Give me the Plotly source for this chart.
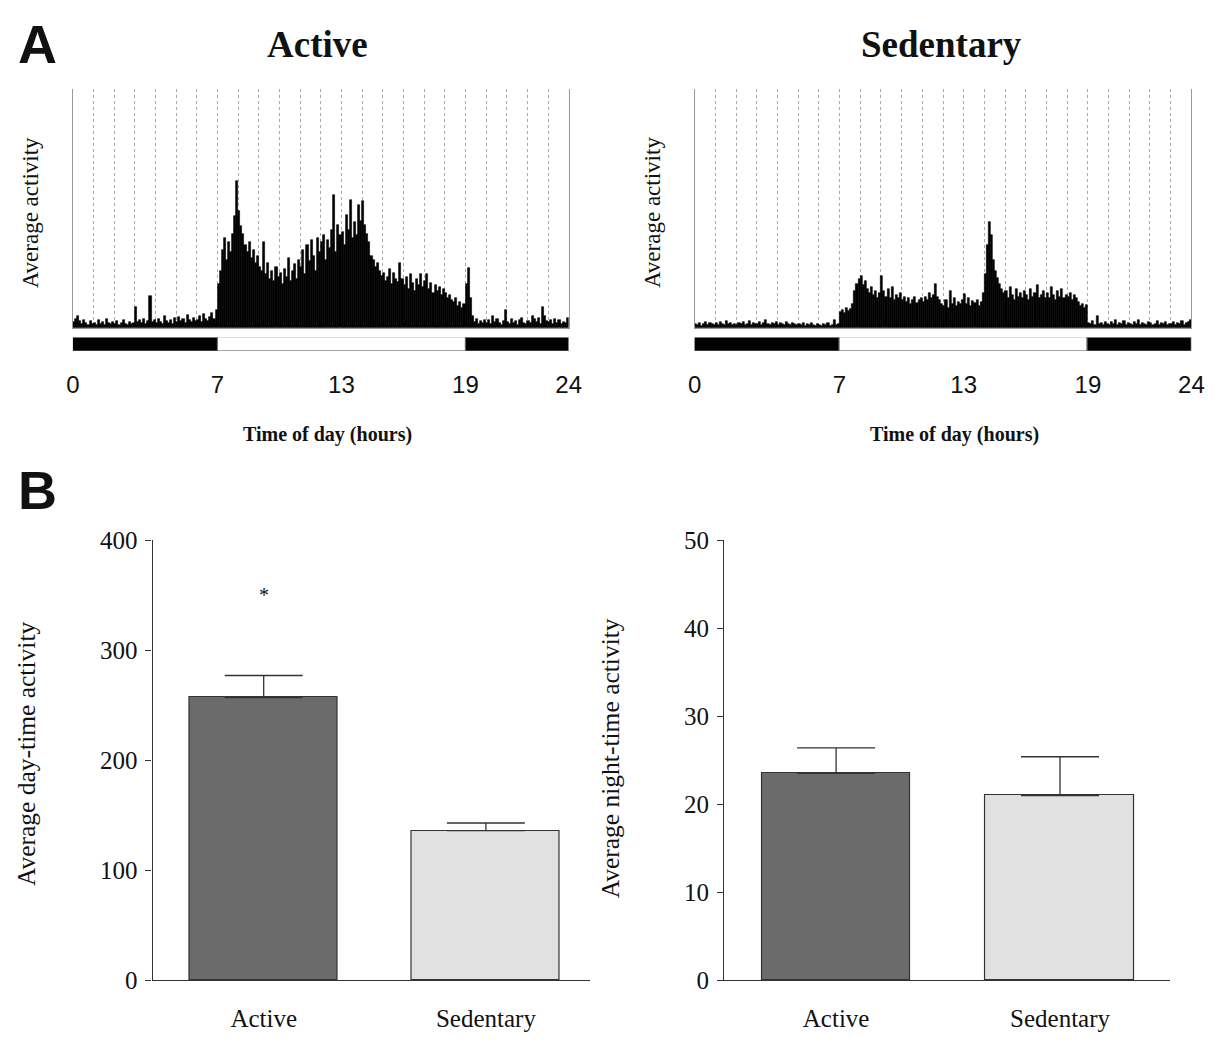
import plotly.graph_objects as go

W, H = 1228, 1049

# ---------------- data ----------------
BIN_HOURS = 0.1  # 6-minute bins, 10 per hour, 240 per day

# Average activity (arbitrary units), Active group, hour by hour
active_activity = [
    6, 9, 12, 7, 4, 8, 5, 3, 7, 4,          # 0h
    5, 3, 8, 4, 6, 3, 9, 5, 4, 6,           # 1h
    4, 7, 3, 5, 8, 4, 3, 6, 4, 5,           # 2h
    21, 6, 8, 5, 9, 4, 7, 33, 6, 8,         # 3h
    5, 9, 6, 4, 12, 7, 5, 8, 4, 10,         # 4h
    6, 11, 7, 9, 5, 13, 8, 6, 10, 7,        # 5h
    8, 12, 6, 14, 9, 7, 11, 15, 9, 18,      # 6h
    45, 58, 80, 92, 70, 88, 78, 96, 115, 151,  # 7h
    120, 104, 96, 85, 78, 88, 72, 80, 66, 74,  # 8h
    62, 58, 88, 55, 66, 50, 58, 48, 62, 52,    # 9h
    56, 45, 60, 52, 72, 48, 58, 65, 50, 70,    # 10h
    62, 80, 55, 85, 68, 90, 74, 58, 92, 78,    # 11h
    88, 95, 70, 90, 82, 100, 136, 78, 105, 95, # 12h
    98, 85, 116, 100, 131, 92, 108, 95, 126, 110,  # 13h
    130, 105, 96, 88, 74, 70, 62, 66, 58, 53,  # 14h
    56, 48, 52, 60, 45, 56, 50, 47, 66, 50,    # 15h
    44, 52, 40, 55, 46, 38, 50, 44, 55, 42,    # 16h
    48, 55, 40, 46, 36, 44, 38, 42, 34, 40,    # 17h
    36, 30, 34, 28, 26, 30, 22, 26, 20, 24,    # 18h
    45, 61, 30, 12, 6, 9, 4, 7, 5, 8,          # 19h
    5, 8, 4, 12, 6, 9, 5, 3, 7, 18,            # 20h
    6, 4, 9, 5, 7, 3, 8, 10, 5, 4,             # 21h
    7, 5, 12, 9, 6, 10, 4, 21, 12, 7,          # 22h
    6, 8, 4, 9, 5, 8, 4, 6, 5, 10,             # 23h
]

# Average activity (arbitrary units), Sedentary group
sedentary_activity = [
    4, 3, 5, 2, 4, 6, 3, 5, 4, 3,           # 0h
    5, 3, 6, 4, 3, 7, 4, 5, 3, 4,           # 1h
    3, 5, 4, 6, 3, 4, 7, 3, 5, 4,           # 2h
    4, 6, 3, 5, 8, 4, 3, 5, 4, 6,           # 3h
    3, 5, 4, 3, 6, 4, 3, 5, 4, 3,           # 4h
    4, 3, 5, 2, 4, 3, 5, 3, 2, 4,           # 5h
    3, 2, 4, 3, 5, 2, 3, 8, 3, 4,           # 6h
    16, 18, 15, 20, 17, 19, 24, 38, 45, 50, # 7h
    53, 44, 48, 40, 36, 42, 34, 38, 30, 36, # 8h
    53, 38, 32, 40, 30, 42, 28, 34, 30, 36, # 9h
    28, 32, 26, 30, 24, 28, 32, 25, 28, 30, # 10h
    26, 32, 28, 36, 30, 34, 45, 32, 28, 24, # 11h
    22, 28, 20, 38, 24, 30, 22, 26, 24, 28, # 12h
    35, 24, 30, 22, 27, 25, 28, 22, 26, 36, # 13h
    55, 85, 108, 95, 70, 58, 51, 45, 40, 36,# 14h
    38, 30, 42, 34, 28, 40, 32, 36, 30, 38, # 15h
    34, 28, 40, 32, 36, 44, 30, 34, 38, 30, # 16h
    36, 30, 42, 34, 28, 38, 32, 40, 30, 34, # 17h
    32, 36, 28, 34, 30, 26, 22, 24, 20, 23, # 18h
    5, 4, 7, 3, 12, 4, 5, 3, 6, 4,          # 19h
    3, 6, 4, 8, 3, 5, 4, 7, 3, 5,           # 20h
    4, 3, 6, 4, 8, 3, 5, 4, 3, 6,           # 21h
    5, 3, 4, 7, 3, 5, 4, 6, 3, 4,           # 22h
    4, 6, 3, 5, 4, 7, 3, 5, 6, 8,           # 23h
]

# light/dark schedule (lights on 7:00 - 19:00)
ld_start = [0, 7, 19]
ld_length = [7, 12, 5]
ld_colors = ["black", "white", "black"]
hour_ticks = [0, 7, 13, 19, 24]

groups = ["Active", "Sedentary"]
day_mean = [257, 136]
day_sem = [20, 7]
night_mean = [23.5, 21.0]
night_sem = [2.9, 4.4]
bar_colors = ["#6b6b6b", "#e1e1e1"]

# ---------------- helpers ----------------
def fx(p):
    return p / W

def fy(p):
    return 1 - p / H

bin_centers = [i * BIN_HOURS + BIN_HOURS / 2 for i in range(len(active_activity))]

SERIF = "Liberation Serif, Times New Roman, serif"
SANS = "Liberation Sans, Arial, sans-serif"

fig = go.Figure()

# histograms
for series, xa, ya in [(active_activity, "x", "y"), (sedentary_activity, "x3", "y3")]:
    fig.add_trace(go.Bar(
        x=bin_centers, y=series, width=BIN_HOURS,
        marker=dict(color="black", line=dict(color="black", width=0.6)),
        xaxis=xa, yaxis=ya, showlegend=False, hoverinfo="x+y",
    ))

# light/dark bars
for xa, ya in [("x2", "y2"), ("x4", "y4")]:
    fig.add_trace(go.Bar(
        y=["LD"] * 3, x=ld_length, base=ld_start, orientation="h", width=1,
        marker=dict(color=ld_colors, line=dict(color="#666666", width=1)),
        xaxis=xa, yaxis=ya, showlegend=False, hoverinfo="skip",
    ))

# group bars
for means, sems, xa, ya in [(day_mean, day_sem, "x5", "y5"), (night_mean, night_sem, "x6", "y6")]:
    fig.add_trace(go.Bar(
        x=groups, y=means, width=0.665,
        marker=dict(color=bar_colors, line=dict(color="#333333", width=1.2)),
        error_y=dict(type="data", symmetric=False, array=sems, arrayminus=[0, 0],
                     color="#333333", thickness=1.3, width=39),
        xaxis=xa, yaxis=ya, showlegend=False,
    ))

hist_y = [fy(323), fy(78)]
ld_y = [fy(347), fy(333)]
left_x = [fx(67), fx(571)]
right_x = [fx(699), fx(1204)]

hist_x_common = dict(range=[0, 24], showgrid=True, dtick=1, tick0=0,
                     gridcolor="#a8a8a8", griddash="3px,3px", gridwidth=1,
                     showline=True, linecolor="#999999", linewidth=1,
                     showticklabels=False, ticks="", zeroline=False, fixedrange=True)
hist_y_common = dict(range=[0, 245], showgrid=False, showline=True, mirror=True,
                     linecolor="#999999", linewidth=1, showticklabels=False,
                     ticks="", zeroline=False)
ld_x_common = dict(range=[0, 24], tickvals=hour_ticks, ticks="outside", ticklen=12,
                   tickcolor="rgba(0,0,0,0)", showgrid=False, showline=False,
                   zeroline=False, tickfont=dict(family=SANS, size=24, color="#111"))
ld_y_common = dict(range=[-0.5, 0.5], showticklabels=False, showgrid=False,
                   zeroline=False, showline=False, ticks="")

bar_x_common = dict(type="category", showline=True, linecolor="#333", linewidth=1.2,
                    ticks="outside", ticklen=15, tickcolor="rgba(0,0,0,0)",
                    tickfont=dict(family=SERIF, size=25, color="#111"), showgrid=False)
bar_y_common = dict(showline=True, linecolor="#333", linewidth=1.2, ticks="outside",
                    ticklen=6, tickcolor="#333", showgrid=False, zeroline=False,
                    tickfont=dict(family=SERIF, size=25, color="#111"),
                    ticklabelstandoff=3)

fig.update_layout(
    width=W, height=H, margin=dict(l=0, r=0, t=0, b=0),
    paper_bgcolor="white", plot_bgcolor="white", showlegend=False,
    bargap=0,
    xaxis=dict(domain=left_x, anchor="y", **hist_x_common),
    yaxis=dict(domain=hist_y, anchor="x", **hist_y_common),
    xaxis2=dict(domain=left_x, anchor="y2", **ld_x_common),
    yaxis2=dict(domain=ld_y, anchor="x2", **ld_y_common),
    xaxis3=dict(domain=right_x, anchor="y3", **hist_x_common),
    yaxis3=dict(domain=hist_y, anchor="x3", **hist_y_common),
    xaxis4=dict(domain=right_x, anchor="y4", **ld_x_common),
    yaxis4=dict(domain=ld_y, anchor="x4", **ld_y_common),
    xaxis5=dict(domain=[fx(148), fx(593)], anchor="y5", range=[-0.5, 1.47], **bar_x_common),
    yaxis5=dict(domain=[fy(993), fy(541)], anchor="x5", range=[0, 400],
                tickvals=[0, 100, 200, 300, 400], **bar_y_common),
    xaxis6=dict(domain=[fx(729), fx(1182)], anchor="y6", range=[-0.5, 1.49], **bar_x_common),
    yaxis6=dict(domain=[fy(993), fy(541)], anchor="x6", range=[0, 50],
                tickvals=[0, 10, 20, 30, 40, 50], **bar_y_common),
)

def ann(text, x, y, size, family=SERIF, bold=False, angle=0, xanchor="center"):
    fig.add_annotation(
        text=f"<b>{text}</b>" if bold else text,
        x=fx(x), y=fy(y), xref="paper", yref="paper", showarrow=False,
        xanchor=xanchor, yanchor="middle", textangle=angle,
        font=dict(family=family, size=size, color="#111"),
    )

ann("A", 9, 32, 54, family=SANS, bold=True, xanchor="left")
ann("B", 9, 490, 54, family=SANS, bold=True, xanchor="left")
ann("Active", 316, 32, 37, bold=True)
ann("Sedentary", 950, 32, 37, bold=True)
ann("Average activity", 24, 205, 23, angle=-90)
ann("Average activity", 656, 205, 23, angle=-90)
ann("Time of day (hours)", 326, 433, 20, bold=True)
ann("Time of day (hours)", 963, 433, 20, bold=True)
ann("Average day-time activity", 20, 760, 25.5, angle=-90)
ann("Average night-time activity", 613, 765, 25.5, angle=-90)

# significance marker above the Active bar
fig.add_annotation(text="*", x="Active", y=350, xref="x5", yref="y5", showarrow=False,
                   font=dict(family=SERIF, size=20, color="#111"), yanchor="middle")

fig.write_html("out.html")
